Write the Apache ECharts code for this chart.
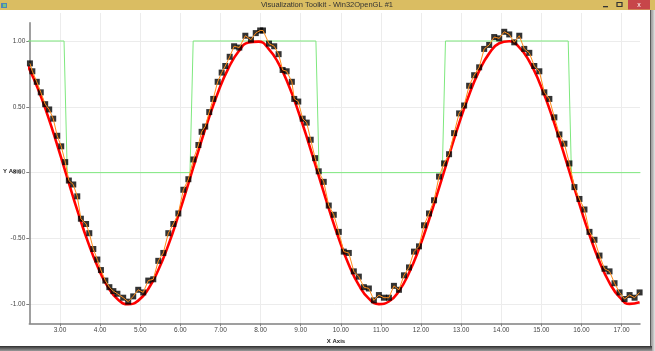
<!DOCTYPE html>
<html>
<head>
<meta charset="utf-8">
<script src="https://cdn.jsdelivr.net/npm/echarts@6/dist/echarts.min.js"></script>
<style>
  html, body { margin: 0; padding: 0; background: #fff; }
  #chart { width: 655px; height: 351px; }
</style>
</head>
<body>
<div id="chart"></div>
<script>
// x ticks / y ticks shown on the axes
const xTicks = [3, 4, 5, 6, 7, 8, 9, 10, 11, 12, 13, 14, 15, 16, 17];
const yTicks = [-1, -0.5, 0, 0.5, 1];

// red curve (sin)
const curveX = [2.2, 2.45, 2.7, 2.95, 3.2, 3.45, 3.7, 3.95, 4.2, 4.45, 4.7, 4.95, 5.2, 5.45, 5.7, 5.95,
  6.2, 6.45, 6.7, 6.95, 7.2, 7.45, 7.7, 7.95, 8.2, 8.45, 8.7, 8.95, 9.2, 9.45, 9.7, 9.95,
  10.2, 10.45, 10.7, 10.95, 11.2, 11.45, 11.7, 11.95, 12.2, 12.45, 12.7, 12.95, 13.2, 13.45, 13.7, 13.95,
  14.2, 14.45, 14.7, 14.95, 15.2, 15.45, 15.7, 15.95, 16.2, 16.45, 16.7, 16.95, 17.2, 17.45];
const curveY = [0.809, 0.638, 0.427, 0.190, -0.058, -0.304, -0.530, -0.723, -0.872, -0.966, -1.000, -0.972, -0.884, -0.740, -0.551, -0.327,
  -0.083, 0.166, 0.405, 0.619, 0.794, 0.920, 0.988, 0.995, 0.941, 0.828, 0.663, 0.457, 0.223, -0.025, -0.272, -0.501,
  -0.700, -0.855, -0.957, -0.999, -0.979, -0.899, -0.762, -0.578, -0.358, -0.116, 0.133, 0.374, 0.592, 0.773, 0.906, 0.983,
  0.998, 0.952, 0.846, 0.687, 0.486, 0.255, 0.008, -0.240, -0.472, -0.676, -0.837, -0.946, -0.997, -0.985];

// noisy samples (black squares + orange line)
const pointX = [2.25, 2.31, 2.42, 2.52, 2.63, 2.73, 2.83, 2.93, 3.03, 3.13, 3.22, 3.33, 3.43, 3.52, 3.65, 3.73, 3.83, 3.93, 4.02, 4.13, 4.23, 4.33, 4.43,
  4.575, 4.7, 4.825, 4.95, 5.075, 5.2, 5.325, 5.45, 5.575, 5.7, 5.825, 5.95, 6.075, 6.2, 6.325, 6.45,
  6.53, 6.62, 6.72, 6.82, 6.93, 7.03, 7.12, 7.23, 7.34, 7.47, 7.62, 7.76, 7.88, 7.99, 8.06, 8.21, 8.34, 8.45, 8.55, 8.65,
  8.78, 8.84, 8.94, 9.05, 9.15, 9.25, 9.36,
  9.45, 9.575, 9.7, 9.825, 9.95, 10.075, 10.2, 10.325, 10.45, 10.575, 10.7, 10.825, 10.95, 11.075, 11.2, 11.325, 11.45,
  11.575, 11.7, 11.825, 11.95, 12.075, 12.2, 12.325, 12.45, 12.575, 12.7, 12.825, 12.95, 13.075, 13.2, 13.325, 13.45,
  13.575, 13.7, 13.825, 13.95, 14.075, 14.2, 14.325, 14.45, 14.575, 14.7, 14.825, 14.95, 15.075, 15.2, 15.325, 15.45,
  15.575, 15.7, 15.825, 15.95, 16.075, 16.2, 16.325, 16.45, 16.575, 16.7, 16.825, 16.95, 17.075, 17.2, 17.325, 17.45];
const pointY = [0.83, 0.77, 0.69, 0.61, 0.52, 0.48, 0.41, 0.28, 0.20, 0.08, -0.06, -0.09, -0.18, -0.35, -0.39, -0.46, -0.58, -0.66, -0.74, -0.82, -0.87, -0.90, -0.92,
  -0.95, -0.98, -0.94, -0.89, -0.91, -0.82, -0.81, -0.67, -0.61, -0.46, -0.39, -0.31, -0.13, -0.05, 0.10, 0.21,
  0.31, 0.35, 0.46, 0.56, 0.69, 0.76, 0.81, 0.88, 0.96, 0.95, 1.04, 1.01, 1.06, 1.08, 1.08, 0.98, 0.96, 0.90, 0.78, 0.77,
  0.69, 0.56, 0.54, 0.41, 0.38, 0.25, 0.11,
  0.01, -0.07, -0.25, -0.32, -0.45, -0.60, -0.61, -0.75, -0.79, -0.87, -0.88, -0.97, -0.93, -0.95, -0.95, -0.86, -0.89,
  -0.78, -0.72, -0.60, -0.56, -0.40, -0.31, -0.21, -0.03, 0.07, 0.14, 0.30, 0.45, 0.51, 0.66, 0.74, 0.80,
  0.94, 0.97, 1.03, 1.02, 1.07, 1.05, 0.99, 1.04, 0.94, 0.91, 0.81, 0.77, 0.61, 0.56, 0.42, 0.29,
  0.22, 0.07, -0.11, -0.20, -0.28, -0.45, -0.51, -0.63, -0.73, -0.75, -0.84, -0.91, -0.96, -0.93, -0.95, -0.91];

// green step (sign of the curve)
const stepX = [2.2, 3.10, 3.18, 6.24, 6.32, 9.38, 9.46, 12.53, 12.61, 15.67, 15.75, 17.47];
const stepY = [1, 1, 0, 0, 1, 1, 0, 0, 1, 1, 0, 0];

const zip = (xs, ys) => xs.map((x, i) => [x, ys[i]]);

const X_MIN = 2.234, X_MAX = 17.46;
const FONT = 'Liberation Sans';
const labelStyle = { fontFamily: FONT, fontSize: 6.5, color: '#444', formatter: v => Number(v).toFixed(2) };

const chart = echarts.init(document.getElementById('chart'), null, { renderer: 'canvas' });

chart.setOption({
  animation: false,
  backgroundColor: '#fff',
  grid: [
    { left: 29.3, right: 15, top: 22.7, bottom: 27.7 },
    // taller grid only used for the vertical grid lines, they reach up to the title bar
    { left: 29.3, right: 15, top: 13, bottom: 27.7 }
  ],
  xAxis: [
    {
      type: 'value', gridIndex: 0, min: X_MIN, max: X_MAX,
      axisLine: { onZero: false, lineStyle: { color: '#808080', width: 1.5 } },
      axisTick: { customValues: xTicks, length: 3, lineStyle: { color: '#808080' } },
      axisLabel: Object.assign({ customValues: xTicks, margin: 3 }, labelStyle),
      splitLine: { show: false }
    },
    {
      type: 'value', gridIndex: 1, min: X_MIN, max: X_MAX,
      axisLine: { show: false, onZero: false }, axisLabel: { show: false },
      axisTick: { show: false, customValues: xTicks },
      splitLine: { show: true, lineStyle: { color: '#ececec', width: 1 } }
    }
  ],
  yAxis: [
    {
      type: 'value', gridIndex: 0, min: -1.1445, max: 1.139,
      axisLine: { show: true, onZero: false, lineStyle: { color: '#808080', width: 1.5 } },
      axisTick: { show: true, customValues: yTicks, length: 3, lineStyle: { color: '#808080' } },
      axisLabel: Object.assign({ customValues: yTicks, margin: 4 }, labelStyle),
      splitLine: { show: true, lineStyle: { color: '#ececec', width: 1 } }
    },
    { type: 'value', gridIndex: 1, show: false, min: -1.1445, max: 1.139, splitLine: { show: false } }
  ],
  series: [
    {
      name: 'step', type: 'line', data: zip(stepX, stepY),
      showSymbol: false, lineStyle: { color: '#7ee87e', width: 1 }, z: 1
    },
    {
      name: 'sin', type: 'line', data: zip(curveX, curveY), smooth: true,
      showSymbol: false, lineStyle: { color: '#ff0000', width: 2.6 }, z: 2
    },
    {
      name: 'samples', type: 'scatter', data: zip(pointX, pointY),
      symbol: 'rect', symbolSize: 6, itemStyle: { color: '#000' }, z: 3
    },
    {
      name: 'samples line', type: 'line', data: zip(pointX, pointY),
      showSymbol: false, lineStyle: { color: '#ff8c1a', width: 1 }, z: 4
    }
  ],
  graphic: [
    // window title bar
    { type: 'rect', shape: { x: 0, y: 0, width: 655, height: 10 }, style: { fill: '#dabd62' }, z: 10 },
    { type: 'rect', shape: { x: 1, y: 3, width: 6, height: 5 }, style: { fill: '#4f86b8' }, z: 11 },
    { type: 'rect', shape: { x: 3, y: 4, width: 3, height: 3 }, style: { fill: '#7cc47c' }, z: 12 },
    {
      type: 'text', x: 327, y: 5, z: 11,
      style: { text: 'Visualization Toolkit - Win32OpenGL #1', fontFamily: FONT, fontSize: 7.5,
        fill: '#333', align: 'center', verticalAlign: 'middle' }
    },
    { type: 'rect', shape: { x: 603, y: 6, width: 5, height: 1.3 }, style: { fill: '#333' }, z: 11 },
    { type: 'rect', shape: { x: 617, y: 2.5, width: 5, height: 4 }, style: { fill: 'none', stroke: '#333', lineWidth: 1.2 }, z: 11 },
    { type: 'rect', shape: { x: 628, y: 0, width: 22, height: 9.5 }, style: { fill: '#c7464a' }, z: 11 },
    {
      type: 'text', x: 639, y: 4.8, z: 12,
      style: { text: 'x', fontFamily: FONT, fontSize: 7, fill: '#fff', align: 'center', verticalAlign: 'middle' }
    },
    // window frame shadow right and bottom
    { type: 'rect', shape: { x: 650, y: 10, width: 1.5, height: 341 }, style: { fill: '#5a5a5a' }, z: 10 },
    {
      type: 'rect', shape: { x: 651.5, y: 10, width: 3.5, height: 341 }, z: 10,
      style: { fill: new echarts.graphic.LinearGradient(0, 0, 1, 0, [{ offset: 0, color: '#9a9a9a' }, { offset: 1, color: '#e6e6e6' }]) }
    },
    {
      type: 'rect', shape: { x: 0, y: 346, width: 652, height: 5 }, z: 10,
      style: { fill: new echarts.graphic.LinearGradient(0, 0, 0, 1, [{ offset: 0, color: '#2e2e2e' }, { offset: 1, color: '#9a9a9a' }]) }
    },
    // axis titles
    {
      type: 'text', x: 336, y: 341, z: 11,
      style: { text: 'X Axis', fontFamily: FONT, fontSize: 6, fontWeight: 'bold', fill: '#222', align: 'center', verticalAlign: 'middle' }
    },
    {
      type: 'text', x: 3, y: 171, z: 11,
      style: { text: 'Y Axis', fontFamily: FONT, fontSize: 6, fontWeight: 'bold', fill: '#222', align: 'left', verticalAlign: 'middle' }
    }
  ]
});
</script>
</body>
</html>
